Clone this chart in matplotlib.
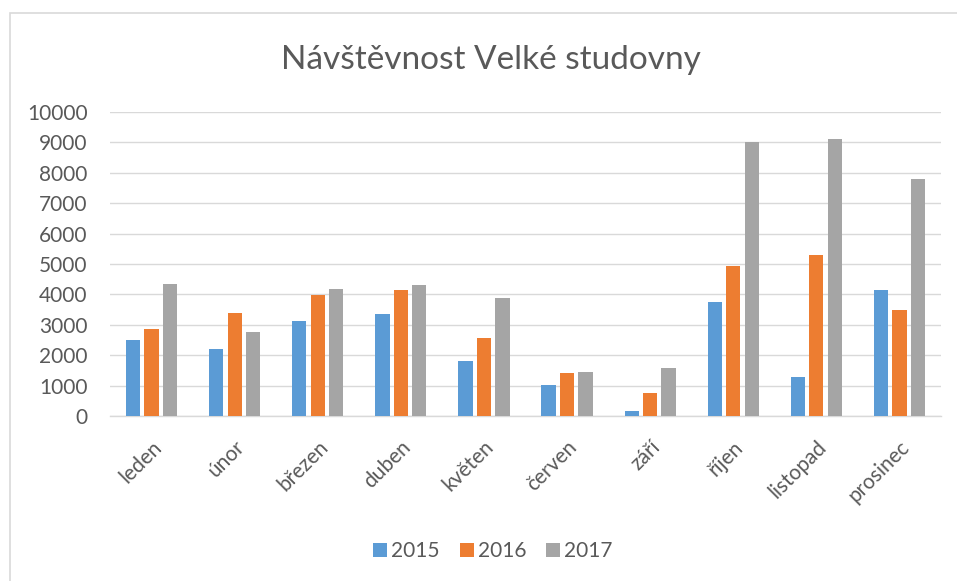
import numpy as np
import matplotlib.pyplot as plt
from matplotlib.patches import Rectangle

plt.rcParams['font.family'] = ['Lato', 'DejaVu Sans']

months = ['leden', 'únor', 'březen', 'duben', 'květen', 'červen',
          'září', 'říjen', 'listopad', 'prosinec']
years = ['2015', '2016', '2017']
v2015 = [2500, 2210, 3130, 3340, 1815, 1010, 165, 3760, 1285, 4130]
v2016 = [2850, 3400, 3970, 4130, 2560, 1420, 760, 4935, 5300, 3495]
v2017 = [4340, 2770, 4165, 4320, 3870, 1440, 1570, 9000, 9100, 7780]
colors = ['#5B9BD5', '#ED7D31', '#A5A5A5']
txt = '#595959'

W, H = 957, 581
fig = plt.figure(figsize=(W / 100, H / 100), dpi=100)

# ramecek grafu
fig.patches.append(Rectangle((10 / W, -0.1), 1.2, 1 - 13 / H + 0.1,
                             transform=fig.transFigure, fill=False,
                             edgecolor='#D9D9D9', linewidth=1.2))

ax = fig.add_axes([110 / W, 1 - 416 / H, 831 / W, 304 / H])
x = np.arange(len(months))
step = 0.222
bw = 0.172
for i, (vals, c, lab) in enumerate(zip([v2015, v2016, v2017], colors, years)):
    ax.bar(x + (i - 1) * step, vals, width=bw, color=c, label=lab, zorder=3)

ax.set_xlim(-0.5, len(months) - 0.5)
ax.set_ylim(0, 10000)
ax.set_yticks(np.arange(0, 10001, 1000))
ax.yaxis.grid(True, color='#D9D9D9', linewidth=1.0, zorder=0)
for s in ['left', 'right', 'top']:
    ax.spines[s].set_visible(False)
ax.spines['bottom'].set_color('#D9D9D9')
ax.spines['bottom'].set_linewidth(1.0)
ax.tick_params(axis='both', length=0, colors=txt, labelsize=15)
ax.tick_params(axis='y', pad=16)
ax.set_xticks(x)
ax.set_xticklabels(months, rotation=45, ha='right', rotation_mode='anchor')
ax.tick_params(axis='x', pad=15)

fig.text(491 / W, 1 - 60 / H, 'Návštěvnost Velké studovny', ha='center',
         va='center', fontsize=24, color=txt)

leg = fig.legend(loc='center', bbox_to_anchor=(493 / W, 1 - 551 / H), ncol=3,
                 frameon=False, fontsize=15, handlelength=0.67, handleheight=0.67,
                 handletextpad=0.2, columnspacing=0.96, labelcolor=txt)

fig.savefig('out.png', dpi=100)
